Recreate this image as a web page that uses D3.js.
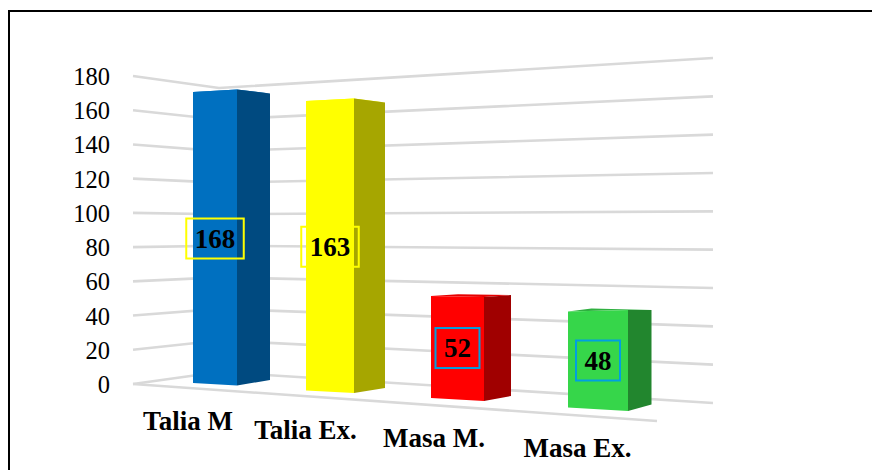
<!DOCTYPE html>
<html>
<head>
<meta charset="utf-8">
<script src="https://cdn.jsdelivr.net/npm/d3@7"></script>
<style>
  html, body { margin: 0; padding: 0; background: #fff; }
  svg { display: block; }
  text { font-family: "Liberation Serif", serif; fill: #000; }
</style>
</head>
<body>
<svg id="chart" width="872" height="470"></svg>
<script>
var categories = ['Talia M', 'Talia Ex.', 'Masa M.', 'Masa Ex.'];
var values = [168, 163, 52, 48];
var yTicks = [0, 20, 40, 60, 80, 100, 120, 140, 160, 180];
var frontColors = ['#0070c0', '#ffff00', '#ff0000', '#36d64a'];
var sideColors = ['#004a80', '#a6a600', '#a00000', '#22862e'];
var topColors = ['#0070c0', '#ffff00', '#e60000', '#2fb040'];
var boxColors = ['#ffff00', '#ffff00', '#00a0e0', '#00a0e0'];

var svg = d3.select('#chart');
var idx = d3.range(categories.length);

function byIndex(range) {
  return d3.scaleLinear().domain(idx).range(range);
}

// The chart is a 3D one, so every vertical bar edge has its own x, floor and
// pixels-per-unit scale, all read from the perspective in the picture.
var edges = {
  left: { x: byIndex([193, 306, 431, 568]), floor: byIndex([383, 390.5, 398, 407.5]), unit: byIndex([1.732, 1.776, 1.96, 2.0]) },
  corner: { x: byIndex([237, 354, 484, 628]), floor: byIndex([385.5, 393, 401, 411]), unit: byIndex([1.762, 1.807, 2.0, 2.104]) },
  right: { x: byIndex([270, 385, 511, 651.5]), floor: byIndex([380, 388, 396, 404.5]), unit: byIndex([1.705, 1.751, 1.94, 1.97]) }
};
var topLift = byIndex([0, 0, 0, 3]);

// y scales of the back walls, at the left end, the back corner and the right end
var wallLeft = d3.scaleLinear().domain([0, 180]).range([384, 76]);
var wallCorner = d3.scaleLinear().domain([0, 180]).range([372, 88]);
var wallRight = d3.scaleLinear().domain([0, 180]).range([403, 58]);
var wallX = { left: 133, corner: 219, right: 713, floorEnd: 657, floorEndY: 421 };

function topY(edge, i) {
  return edge.floor(i) - values[i] * edge.unit(i);
}

function pt(edge, i, atTop) {
  return [edge.x(i), atTop ? topY(edge, i) : edge.floor(i)];
}

var line = d3.line();

// outer frame: only the left and top sides are in the picture
svg.append('path')
  .attr('d', line([[9, 470], [9, 11], [872, 11]]))
  .attr('fill', 'none')
  .attr('stroke', '#000')
  .attr('stroke-width', 2);

// gridlines
svg.append('g').selectAll('path')
  .data(yTicks)
  .enter().append('path')
  .attr('d', function(v) {
    return line([[wallX.left, wallLeft(v)], [wallX.corner, wallCorner(v)], [wallX.right, wallRight(v)]]);
  })
  .attr('fill', 'none')
  .attr('stroke', '#d9d9d9')
  .attr('stroke-width', 2.6);

// front edge of the floor
svg.append('path')
  .attr('d', line([[wallX.left, wallLeft(0)], [wallX.floorEnd, wallX.floorEndY]]))
  .attr('stroke', '#d9d9d9')
  .attr('stroke-width', 2.6);

// y tick labels
svg.append('g').selectAll('text')
  .data(yTicks)
  .enter().append('text')
  .attr('x', 110)
  .attr('y', function(v) { return wallLeft(v) + 9; })
  .attr('text-anchor', 'end')
  .style('font-size', '24.5px')
  .text(function(v) { return v; });

// bars
var bars = svg.append('g').selectAll('g')
  .data(idx)
  .enter().append('g');

bars.append('path')
  .attr('d', function(i) {
    var l = pt(edges.left, i, true), c = pt(edges.corner, i, true), r = pt(edges.right, i, true);
    return line([l, c, r, [l[0] + r[0] - c[0], l[1] + r[1] - c[1] - topLift(i)]]) + 'Z';
  })
  .attr('fill', function(i) { return topColors[i]; });

bars.append('path')
  .attr('d', function(i) {
    return line([pt(edges.left, i, true), pt(edges.corner, i, true), pt(edges.corner, i), pt(edges.left, i)]) + 'Z';
  })
  .attr('fill', function(i) { return frontColors[i]; });

bars.append('path')
  .attr('d', function(i) {
    return line([pt(edges.corner, i, true), pt(edges.right, i, true), pt(edges.right, i), pt(edges.corner, i)]) + 'Z';
  })
  .attr('fill', function(i) { return sideColors[i]; });

// value labels sit in the middle of the front face, inside a small box
function labelX(i) {
  return (edges.left.x(i) + edges.corner.x(i)) / 2;
}
function labelY(i) {
  return (topY(edges.left, i) + edges.left.floor(i)) / 2 + 1;
}

var labels = bars.append('g')
  .attr('transform', function(i) { return 'translate(' + labelX(i) + ',' + labelY(i) + ')'; });

var labelText = labels.append('text')
  .attr('y', 9)
  .attr('text-anchor', 'middle')
  .style('font-size', '27px')
  .style('font-weight', 'bold')
  .text(function(i) { return values[i]; });

labels.insert('rect', 'text')
  .each(function(i) {
    var w = labelText.nodes()[i].getBBox().width + 17;
    d3.select(this)
      .attr('x', -w / 2)
      .attr('y', -20)
      .attr('width', w)
      .attr('height', 40);
  })
  .attr('fill', 'none')
  .attr('stroke', function(i) { return boxColors[i]; })
  .attr('stroke-width', 2);

// category labels follow the slope of the floor
var catX = byIndex([188, 305.5, 434, 577.5]);
var catY = byIndex([430, 439, 447, 457]);

svg.append('g').selectAll('text')
  .data(idx)
  .enter().append('text')
  .attr('x', catX)
  .attr('y', catY)
  .attr('text-anchor', 'middle')
  .style('font-size', '27px')
  .style('font-weight', 'bold')
  .text(function(i) { return categories[i]; });
</script>
</body>
</html>
